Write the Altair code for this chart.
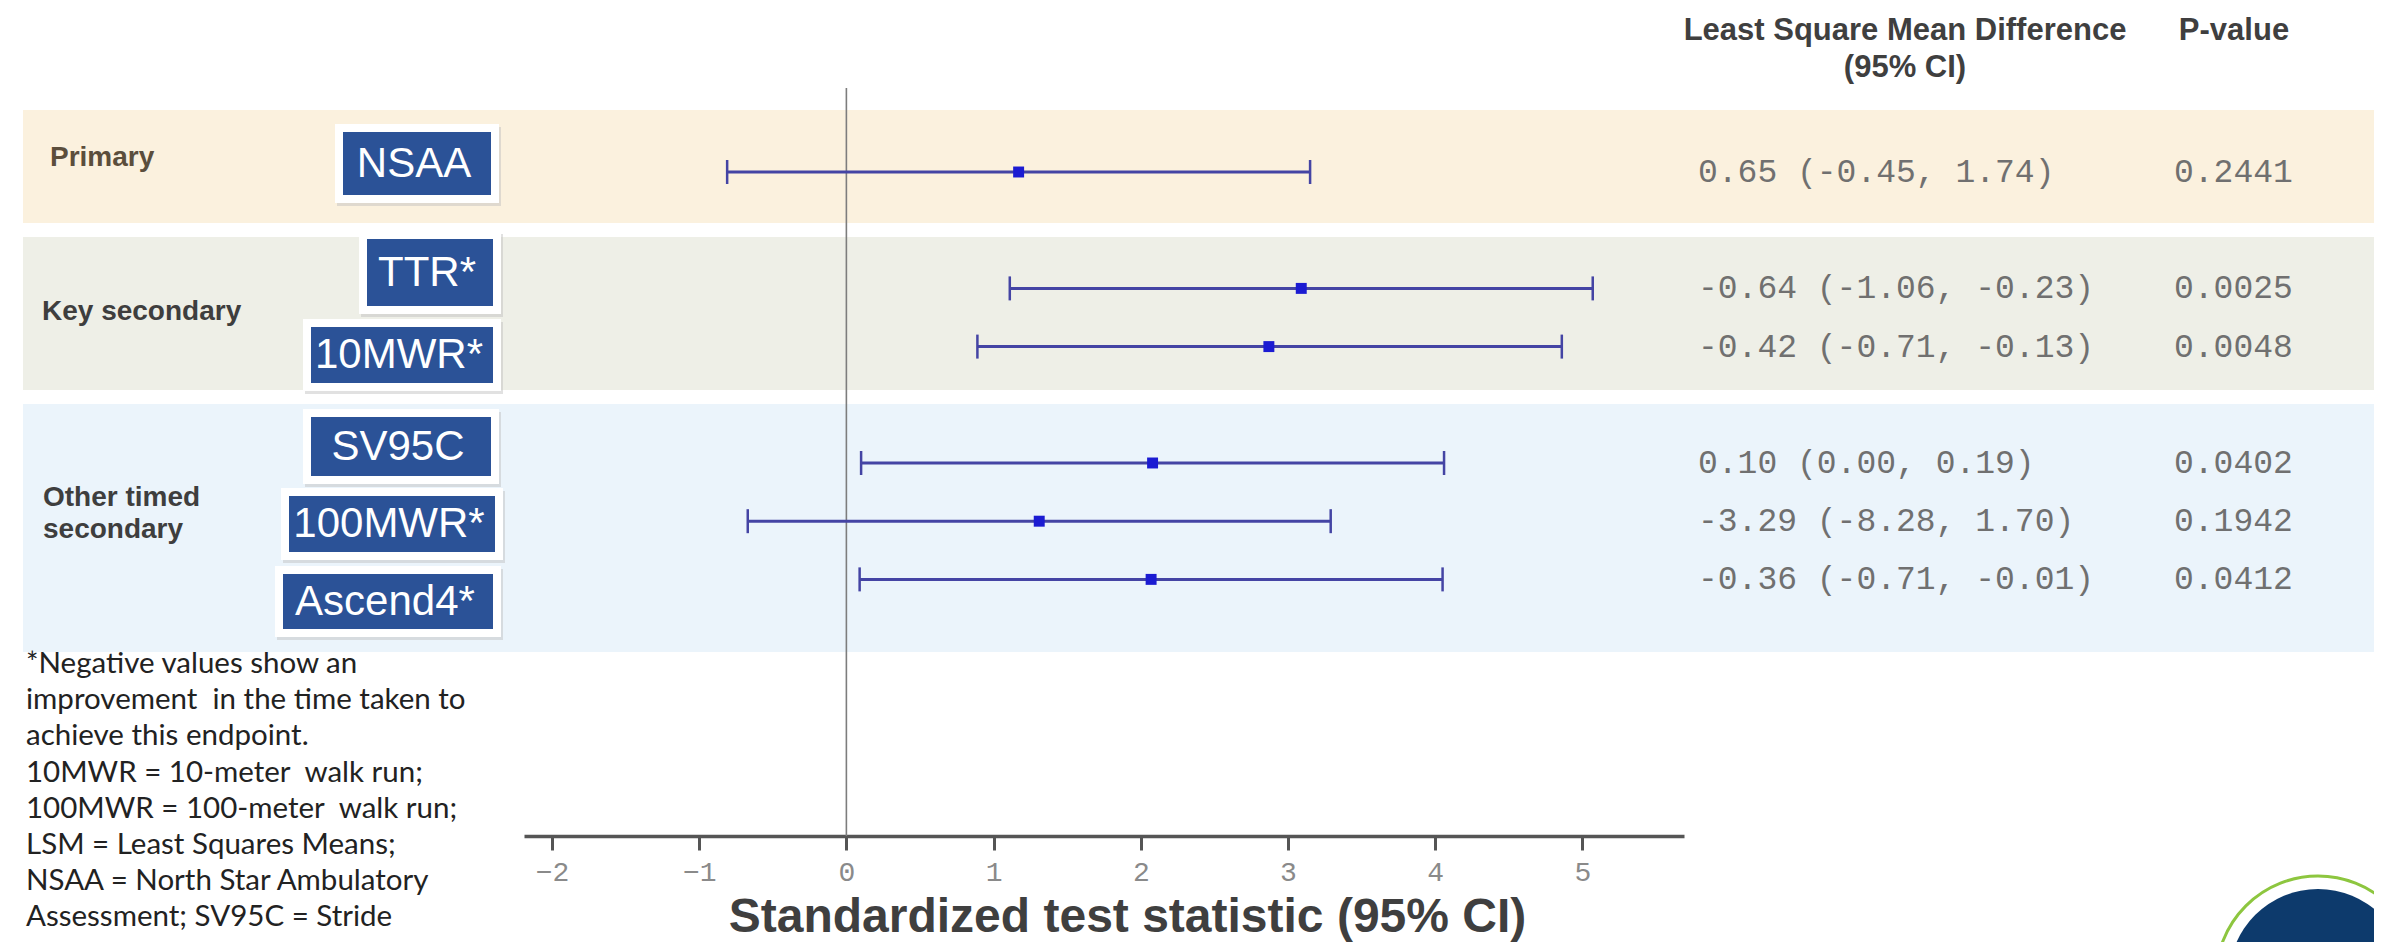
import altair as alt
import pandas as pd

# ---------------- data ----------------
endpoints = ["NSAA", "TTR*", "10MWR*", "SV95C", "100MWR*", "Ascend4*"]
row_slot = [0, 2, 3, 5, 6, 7]
stat_est = [1.17, 3.09, 2.87, 2.08, 1.31, 2.07]
stat_lo = [-0.81, 1.11, 0.89, 0.10, -0.67, 0.09]
stat_hi = [3.15, 5.07, 4.86, 4.06, 3.29, 4.05]
lsm_diff = ["0.65 (-0.45, 1.74)", "-0.64 (-1.06, -0.23)", "-0.42 (-0.71, -0.13)",
            "0.10 (0.00, 0.19)", "-3.29 (-8.28, 1.70)", "-0.36 (-0.71, -0.01)"]
p_values = ["0.2441", "0.0025", "0.0048", "0.0402", "0.1942", "0.0412"]
x_ticks = [-2, -1, 0, 1, 2, 3, 4, 5]
ref_value = [0]

group_names = ["Primary", "Key secondary", "Other timed\nsecondary"]
header_lsm = ["Least Square Mean Difference", "(95% CI)"]
header_p = "P-value"
axis_title = "Standardized test statistic (95% CI)"
footnote = [
    "*Negative values show an",
    "improvement \u00a0in the time taken to",
    "achieve this endpoint.",
    "10MWR = 10-meter \u00a0walk run;",
    "100MWR = 100-meter \u00a0walk run;",
    "LSM = Least Squares Means;",
    "NSAA = North Star Ambulatory",
    "Assessment; SV95C = Stride",
    "Velocity 95th Centile; TTR = Time to Rise",
]

# ---------------- layout (pixels inside the chart) ----------------
W, H, PB = 2366, 828, 106
band_top = [102, 229, 396]
band_bot = [215, 382, 644]
band_fill = ["#FBF1DE", "#EEEFE7", "#EBF4FB"]
group_x = [42, 34, 35]
group_y = [150, 304, 490]
group_color = ["#5B4E3C", "#3E3E3E", "#3E3E3E"]
box_left = [335, 359, 303, 303, 281, 275]
box_right = [483, 485, 485, 483, 487, 485]
box_top = [124, 231, 319, 409, 488, 566]
box_bot = [187, 298, 375, 468, 544, 621]

XS = alt.Scale(domain=[-2.19, 5.69], range=[516, 1676], nice=False, zero=False)
YS = alt.Scale(domain=[-2.818, 11.375], range=[0, 826], nice=False, zero=False)
PXX = alt.Scale(domain=[0, W], range=[0, W], nice=False, zero=False)
PXY = alt.Scale(domain=[0, H], range=[0, H], nice=False, zero=False)

rows = pd.DataFrame({"endpoint": endpoints, "row": row_slot, "est": stat_est,
                     "lo": stat_lo, "hi": stat_hi, "lsm": lsm_diff, "p": p_values})
bands = pd.DataFrame({"top": band_top, "bot": band_bot, "fill": band_fill})
groups = pd.DataFrame({"name": group_names, "gx": group_x, "gy": group_y, "gc": group_color})
boxes = pd.DataFrame({"endpoint": endpoints, "l": box_left, "r": box_right,
                      "t": box_top, "b": box_bot})
boxes["cx"] = (boxes["l"] + boxes["r"]) / 2
boxes["cy"] = (boxes["t"] + boxes["b"]) / 2
ref = pd.DataFrame({"v": ref_value})
one = pd.DataFrame({"k": [0]})

bands_layer = alt.Chart(bands).mark_rect().encode(
    x=alt.value(15), x2=alt.value(W),
    y=alt.Y("top:Q", scale=PXY, axis=None), y2="bot:Q",
    color=alt.Color("fill:N", scale=None),
)

vline = alt.Chart(ref).mark_rule(color="#7d7d7d", strokeWidth=1.6).encode(
    x=alt.X("v:Q", scale=XS, axis=None), y=alt.value(80), y2=alt.value(H)
)

ci = alt.Chart(rows).mark_rule(color="#4444A4", strokeWidth=3).encode(
    x=alt.X("lo:Q", scale=XS, axis=alt.Axis(
        values=x_ticks, format="d", tickSize=14, tickWidth=3, tickColor="#555555",
        domainColor="#555555", domainWidth=3.5, labelFont="Liberation Mono",
        labelFontSize=28, labelColor="#8a8a8a", labelPadding=8, grid=False,
        labelFlush=False, labelOverlap=False,
        title=axis_title, titleFont="Liberation Sans", titleFontSize=48,
        titleFontWeight="bold", titleColor="#3f3f3f", titleX=1119, titleY=95,
        titleAlign="center", titleBaseline="alphabetic")),
    x2="hi:Q",
    y=alt.Y("row:Q", scale=YS, axis=None),
)

caps = alt.Chart(rows).transform_fold(["lo", "hi"], as_=["side", "val"]).mark_rule(
    color="#4444A4", strokeWidth=2.5, yOffset=-12, y2Offset=12
).encode(
    x=alt.X("val:Q", scale=XS, axis=None),
    y=alt.Y("row:Q", scale=YS, axis=None), y2="row:Q",
)

pts = alt.Chart(rows).mark_square(size=120, color="#1B1BD2", opacity=1).encode(
    x=alt.X("est:Q", scale=XS, axis=None),
    y=alt.Y("row:Q", scale=YS, axis=None),
)

lsm_text = alt.Chart(rows).mark_text(
    align="left", baseline="middle", font="Liberation Mono", fontSize=33, color="#707070"
).encode(x=alt.value(1690), y=alt.Y("row:Q", scale=YS, axis=None), text="lsm:N")

p_text = alt.Chart(rows).mark_text(
    align="left", baseline="middle", font="Liberation Mono", fontSize=33, color="#707070"
).encode(x=alt.value(2166), y=alt.Y("row:Q", scale=YS, axis=None), text="p:N")

box_shadow = alt.Chart(boxes).mark_rect(
    color="#bdbdbd", opacity=0.45, xOffset=-6, x2Offset=10, yOffset=-5, y2Offset=11
).encode(x=alt.X("l:Q", scale=PXX, axis=None), x2="r:Q",
         y=alt.Y("t:Q", scale=PXY, axis=None), y2="b:Q")

box_white = alt.Chart(boxes).mark_rect(
    color="#ffffff", xOffset=-8, x2Offset=8, yOffset=-8, y2Offset=8
).encode(x=alt.X("l:Q", scale=PXX, axis=None), x2="r:Q",
         y=alt.Y("t:Q", scale=PXY, axis=None), y2="b:Q")

box_blue = alt.Chart(boxes).mark_rect(color="#2B5297").encode(
    x=alt.X("l:Q", scale=PXX, axis=None), x2="r:Q",
    y=alt.Y("t:Q", scale=PXY, axis=None), y2="b:Q")

box_text = alt.Chart(boxes).mark_text(
    align="center", baseline="middle", font="Liberation Sans", fontSize=42,
    color="#ffffff", dx=-3
).encode(x=alt.X("cx:Q", scale=PXX, axis=None),
         y=alt.Y("cy:Q", scale=PXY, axis=None), text="endpoint:N")

group_text = alt.Chart(groups).mark_text(
    align="left", baseline="middle", font="Liberation Sans", fontSize=28,
    fontWeight="bold", lineBreak="\n", lineHeight=32
).encode(x=alt.X("gx:Q", scale=PXX, axis=None),
         y=alt.Y("gy:Q", scale=PXY, axis=None),
         text="name:N", color=alt.Color("gc:N", scale=None))

hdr_style = dict(align="center", baseline="middle", font="Liberation Sans",
                 fontSize=31, fontWeight="bold", color="#3f3f3f")
hdr1 = alt.Chart(one).mark_text(**hdr_style).encode(
    x=alt.value(1897), y=alt.value(23), text=alt.value(header_lsm[0]))
hdr2 = alt.Chart(one).mark_text(**hdr_style).encode(
    x=alt.value(1897), y=alt.value(60), text=alt.value(header_lsm[1]))
hdr3 = alt.Chart(one).mark_text(**hdr_style).encode(
    x=alt.value(2226), y=alt.value(23), text=alt.value(header_p))

foot = alt.Chart(one).mark_text(
    align="left", baseline="alphabetic", font="Lato", fontSize=29.5,
    lineHeight=36.2, color="#222222"
).encode(x=alt.value(18), y=alt.value(665), text=alt.value(footnote))

logo_ring = alt.Chart(one).mark_point(
    shape="circle", filled=False, stroke="#8DC63F", strokeWidth=3, size=204 * 204, opacity=1
).encode(x=alt.value(2310), y=alt.value(970))
logo_core = alt.Chart(one).mark_point(
    shape="circle", filled=True, color="#0D3A6C", size=178 * 178, opacity=1
).encode(x=alt.value(2310), y=alt.value(970))

chart = alt.layer(
    bands_layer, vline, ci, caps, pts, lsm_text, p_text,
    box_shadow, box_white, box_blue, box_text, group_text,
    hdr1, hdr2, hdr3, foot, logo_ring, logo_core,
).resolve_scale(x="independent", y="independent").properties(
    width=W, height=H,
    autosize=alt.AutoSizeParams(type="none"),
    padding={"left": 0, "top": 0, "right": 0, "bottom": PB},
    background="#ffffff",
).configure_view(strokeWidth=0)

chart.save("out.html", embed_options={"renderer": "svg", "actions": False})
